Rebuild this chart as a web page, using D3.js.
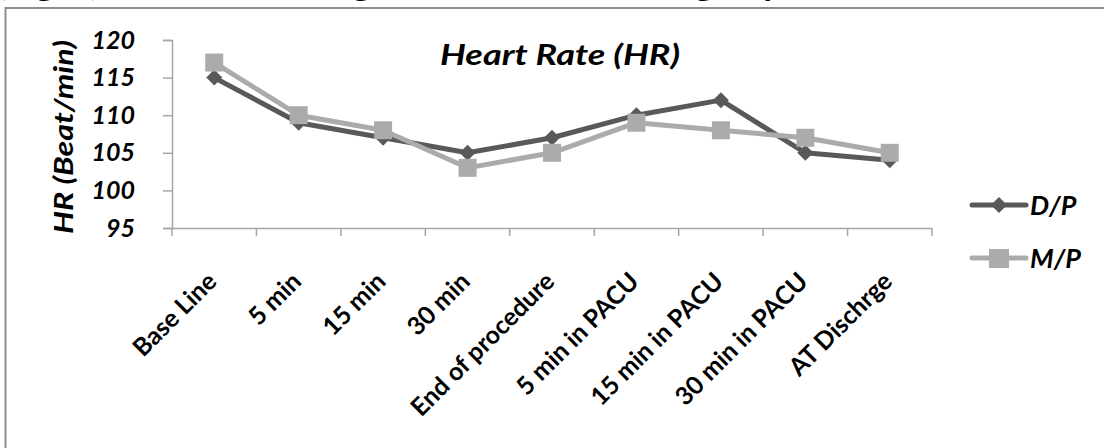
<!DOCTYPE html>
<html><head><meta charset="utf-8">
<script src="https://cdn.jsdelivr.net/npm/d3@7"></script>
<style>
html,body{margin:0;padding:0;background:#fff;}
svg{display:block;}
text{font-family:Lato,"Open Sans",sans-serif;}
</style></head>
<body>
<script>
const categories = ["Base Line","5 min","15 min","30 min","End of procedure","5 min in PACU","15 min in PACU","30 min in PACU","AT Dischrge"];
const dpValues = [115,109,107,105,107,110,112,105,104];
const mpValues = [117,110,108,103,105,109,108,107,105];
const yTicks = [95,100,105,110,115,120];
const seriesNames = ["D/P","M/P"];

const W = 1104, H = 448;
const svg = d3.select("body").append("svg").attr("width",W).attr("height",H);

// clipped caption from the page above (only its descenders show)
svg.append("text").attr("x",-2).attr("y",-4)
  .style("font-weight","bold").style("font-size","28px").attr("fill","#000")
  .attr("textLength",800).attr("lengthAdjust","spacingAndGlyphs")
  .text("(Fig. 2) Heart Rate changes in the two studied groups");

// frame
svg.append("path").attr("d","M5.5,"+H+" V8 H"+W).attr("fill","none")
  .attr("stroke","#8c8c8c").attr("stroke-width",2);

const x = d3.scaleBand().domain(categories).range([172,932]);
const y = d3.scaleLinear().domain([95,120]).range([228,40]);
const axisColor = "#a6a6a6";

// y axis
const ya = svg.append("g").attr("transform","translate(172,0)")
  .call(d3.axisLeft(y).tickValues(yTicks).tickSize(9).tickPadding(28));
ya.select(".domain").attr("stroke",axisColor).attr("stroke-width",1.5);
ya.selectAll(".tick line").attr("stroke",axisColor).attr("stroke-width",1.5);
ya.selectAll(".tick text").attr("fill","#000").style("font-size","25px")
  .style("font-weight","bold").style("font-style","italic").attr("font-family","Lato");

// x axis
const xa = svg.append("g").attr("transform","translate(0,228)")
  .call(d3.axisBottom(x).tickSize(0).tickFormat(""));
xa.select(".domain").attr("stroke",axisColor).attr("stroke-width",1.5);
const bounds = categories.map((c)=>x(c)).concat([x.range()[1]]);
xa.selectAll(".btick").data(bounds).enter().append("line").attr("class","btick")
  .attr("x1",d=>d).attr("x2",d=>d).attr("y1",0).attr("y2",8)
  .attr("stroke",axisColor).attr("stroke-width",1.5);
xa.selectAll(".xlab").data(categories).enter().append("text").attr("class","xlab")
  .attr("transform",d=>"translate("+(x(d)+x.bandwidth()/2+4)+",55) rotate(-45)")
  .attr("text-anchor","end")
  .style("font-size","25px").style("font-weight","bold").attr("fill","#000")
  .text(d=>d);

// y axis title
svg.append("text").attr("transform","translate(73,137) rotate(-90)")
  .attr("text-anchor","middle").style("font-size","26px").style("font-weight","bold")
  .style("font-style","italic").attr("fill","#000")
  .attr("textLength",194).attr("lengthAdjust","spacingAndGlyphs").text("HR (Beat/min)");

// chart title
svg.append("text").attr("x",560).attr("y",65).attr("text-anchor","middle")
  .style("font-size","29px").style("font-weight","bold").style("font-style","italic")
  .attr("fill","#000").attr("textLength",240).attr("lengthAdjust","spacingAndGlyphs")
  .text("Heart Rate (HR)");

const cx = d => x(d)+x.bandwidth()/2;
const line = d3.line().x((d,i)=>cx(categories[i])).y(d=>y(d));
const colors = {dp:"#595959", mp:"#ababab"};

svg.append("path").datum(dpValues).attr("d",line).attr("fill","none")
  .attr("stroke",colors.dp).attr("stroke-width",5).attr("stroke-linejoin","round");
svg.append("path").datum(mpValues).attr("d",line).attr("fill","none")
  .attr("stroke",colors.mp).attr("stroke-width",5).attr("stroke-linejoin","round");

svg.selectAll(".dpm").data(dpValues).enter().append("path").attr("class","dpm")
  .attr("d",d3.symbol().type(d3.symbolSquare).size(128))
  .attr("transform",(d,i)=>"translate("+cx(categories[i])+","+y(d)+") rotate(45)")
  .attr("fill",colors.dp);
svg.selectAll(".mpm").data(mpValues).enter().append("rect").attr("class","mpm")
  .attr("x",(d,i)=>cx(categories[i])-9).attr("y",d=>y(d)-9)
  .attr("width",18).attr("height",18).attr("fill",colors.mp);

// legend
const leg = [{n:seriesNames[0],c:colors.dp,yy:205,t:"d"},{n:seriesNames[1],c:colors.mp,yy:258,t:"s"}];
const lg = svg.selectAll(".leg").data(leg).enter().append("g").attr("class","leg")
  .attr("transform",d=>"translate(0,"+d.yy+")");
lg.append("line").attr("x1",972).attr("x2",1026).attr("y1",0).attr("y2",0)
  .attr("stroke",d=>d.c).attr("stroke-width",5).attr("stroke-linecap","round");
lg.filter(d=>d.t==="d").append("path")
  .attr("d",d3.symbol().type(d3.symbolSquare).size(128))
  .attr("transform","translate(999,0) rotate(45)").attr("fill",d=>d.c);
lg.filter(d=>d.t==="s").append("rect").attr("x",989).attr("y",-9).attr("width",20).attr("height",19)
  .attr("fill",d=>d.c);
lg.append("text").attr("x",1030).attr("y",10).style("font-size","27px")
  .style("font-weight","bold").style("font-style","italic").attr("fill","#000").text(d=>d.n);
</script>
</body></html>
